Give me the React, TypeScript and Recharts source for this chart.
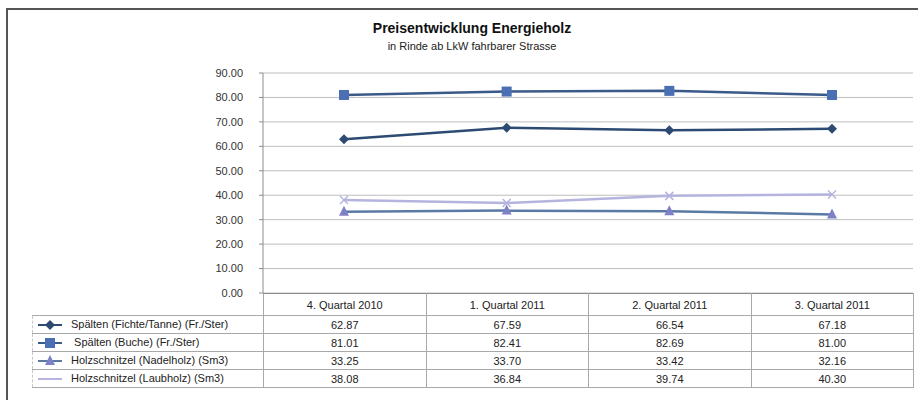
import React from 'react'
import { LineChart, Line, XAxis, YAxis, CartesianGrid } from 'recharts'

const quarters = ['4. Quartal 2010', '1. Quartal 2011', '2. Quartal 2011', '3. Quartal 2011']
const fichteTanne = [62.87, 67.59, 66.54, 67.18]
const buche = [81.01, 82.41, 82.69, 81.0]
const nadelholz = [33.25, 33.7, 33.42, 32.16]
const laubholz = [38.08, 36.84, 39.74, 40.3]
const yTicks = [0, 10, 20, 30, 40, 50, 60, 70, 80, 90]

const series = [
  { key: 'fichte', label: 'Spälten (Fichte/Tanne) (Fr./Ster)', values: fichteTanne, line: '#2d4a72', mark: '#2d4a72', shape: 'diamond' },
  { key: 'buche', label: '\u00a0Spälten (Buche) (Fr./Ster)', values: buche, line: '#3a5a8a', mark: '#4a6fb3', shape: 'square' },
  { key: 'nadel', label: 'Holzschnitzel (Nadelholz)  (Sm3)', values: nadelholz, line: '#5a7aa5', mark: '#7f80c6', shape: 'triangle' },
  { key: 'laub', label: 'Holzschnitzel (Laubholz)  (Sm3)', values: laubholz, line: '#b4b4de', mark: '#b4b4de', shape: 'x' },
]

const data = quarters.map((q, i) => {
  const row: any = { q }
  series.forEach(s => { row[s.key] = s.values[i] })
  return row
})

function Marker({ cx, cy, shape, color }: any) {
  if (cx == null || cy == null) return null
  if (shape === 'diamond') {
    return <polygon points={`${cx},${cy - 5} ${cx + 5},${cy} ${cx},${cy + 5} ${cx - 5},${cy}`} fill={color} />
  }
  if (shape === 'square') {
    return <rect x={cx - 5} y={cy - 5} width={10} height={10} fill={color} />
  }
  if (shape === 'triangle') {
    return <polygon points={`${cx},${cy - 6} ${cx + 5},${cy + 4} ${cx - 5},${cy + 4}`} fill={color} />
  }
  return (
    <g stroke={color} strokeWidth={1.5}>
      <line x1={cx - 4} y1={cy - 4} x2={cx + 4} y2={cy + 4} />
      <line x1={cx - 4} y1={cy + 4} x2={cx + 4} y2={cy - 4} />
    </g>
  )
}

function LegendKey({ s }: any) {
  return (
    <svg width={26} height={12} style={{ verticalAlign: 'middle', marginRight: 8 }}>
      <line x1={1} y1={6} x2={25} y2={6} stroke={s.line} strokeWidth={2} />
      {s.shape === 'x' ? null : <Marker cx={13} cy={6} shape={s.shape} color={s.mark} />}
    </svg>
  )
}

const cell: React.CSSProperties = {
  border: '1px solid #a9a9a9',
  textAlign: 'center',
  padding: 0,
  fontSize: 11,
  color: '#222',
}

export default function App() {
  return (
    <div style={{ position: 'absolute', left: 0, top: 0, width: 918, height: 400, background: '#fff', overflow: 'hidden', fontFamily: '"Liberation Sans", Arial, sans-serif' }}>
      <div style={{ position: 'absolute', left: 6, top: 8, width: 930, height: 420, borderLeft: '2px solid #555', borderTop: '2px solid #555' }} />
      <div style={{ position: 'absolute', left: 0, width: 944, top: 20, textAlign: 'center', fontSize: 14, fontWeight: 'bold', color: '#111' }}>
        Preisentwicklung Energieholz
      </div>
      <div style={{ position: 'absolute', left: 0, width: 944, top: 40, textAlign: 'center', fontSize: 11, color: '#222' }}>
        in Rinde ab LkW fahrbarer Strasse
      </div>
      <div style={{ position: 'absolute', left: 0, top: 0 }}>
        <LineChart width={918} height={300} data={data} margin={{ top: 73, right: 5, bottom: 7, left: 203 }}>
          <CartesianGrid vertical={false} stroke="#bdbdbd" />
          <XAxis dataKey="q" hide padding={{ left: 81, right: 81 }} />
          <YAxis
            width={60}
            domain={[0, 90]}
            ticks={yTicks}
            tickFormatter={(v: number) => v.toFixed(2)}
            axisLine={{ stroke: '#8c8c8c' }}
            tickLine={{ stroke: '#8c8c8c' }}
            tickSize={4}
            tickMargin={16}
            tick={{ fontSize: 11, fill: '#333', fontFamily: '"Liberation Sans", Arial, sans-serif' }}
            interval={0}
          />
          {series.map(s => (
            <Line
              key={s.key}
              dataKey={s.key}
              stroke={s.line}
              strokeWidth={2.5}
              isAnimationActive={false}
              dot={(p: any) => <Marker key={`${s.key}-${p.index}`} cx={p.cx} cy={p.cy} shape={s.shape} color={s.mark} />}
              activeDot={false}
            />
          ))}
        </LineChart>
      </div>
      <table style={{ position: 'absolute', left: 32, top: 293, borderCollapse: 'collapse', tableLayout: 'fixed', width: 881 }}>
        <colgroup>
          <col style={{ width: 231 }} />
          {quarters.map(q => <col key={q} style={{ width: 162.5 }} />)}
        </colgroup>
        <tbody>
          <tr style={{ height: 22 }}>
            <td style={{ padding: 0, border: 'none' }} />
            {quarters.map(q => <td key={q} style={{ ...cell, borderTop: '1px solid #8c8c8c' }}>{q}</td>)}
          </tr>
          {series.map(s => (
            <tr key={s.key} style={{ height: 18 }}>
              <td style={{ ...cell, textAlign: 'left', paddingLeft: 4, whiteSpace: 'nowrap', borderLeft: '1px dashed #c8c8c8' }}>
                <LegendKey s={s} />
                {s.label}
              </td>
              {s.values.map((v, i) => <td key={i} style={cell}>{v.toFixed(2)}</td>)}
            </tr>
          ))}
        </tbody>
      </table>
    </div>
  )
}
